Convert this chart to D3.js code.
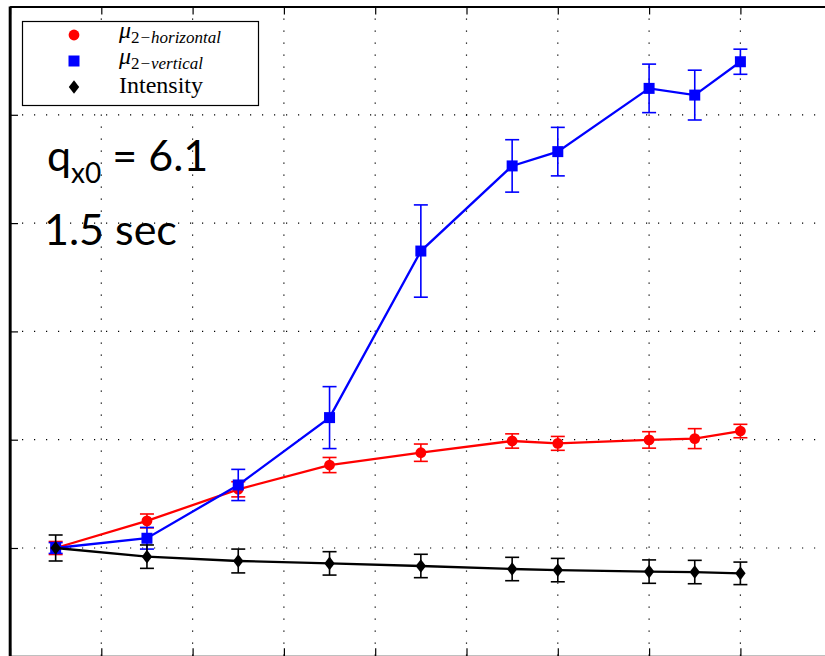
<!DOCTYPE html>
<html>
<head>
<meta charset="utf-8">
<script src="https://cdn.jsdelivr.net/npm/d3@7/dist/d3.min.js"></script>
<style>
  html, body { margin: 0; padding: 0; background: #fff; }
  svg { display: block; }
</style>
</head>
<body>
<svg id="chart" width="825" height="656"></svg>
<script>
"use strict";
// x positions (in grid units) of the measurements
var xValues = [0.5, 1.5, 2.5, 3.5, 4.5, 5.5, 6, 7, 7.5, 8];
// normalised values
var horizValues = [1.000, 1.125, 1.271, 1.383, 1.440, 1.494, 1.483, 1.499, 1.505, 1.540];
var horizErrors = [0.030, 0.032, 0.035, 0.035, 0.040, 0.033, 0.032, 0.038, 0.046, 0.031];
var vertValues = [1.000, 1.045, 1.291, 1.602, 2.371, 2.764, 2.830, 3.122, 3.091, 3.245];
var vertErrors = [0.025, 0.050, 0.072, 0.143, 0.213, 0.121, 0.112, 0.112, 0.115, 0.058];
var intensityValues = [1.000, 0.960, 0.940, 0.929, 0.917, 0.903, 0.898, 0.891, 0.889, 0.883];
var intensityErrors = [0.060, 0.054, 0.055, 0.054, 0.054, 0.054, 0.054, 0.054, 0.054, 0.052];
var xTicks = [0, 1, 2, 3, 4, 5, 6, 7, 8, 9];
var yTicks = [0.5, 1.0, 1.5, 2.0, 2.5, 3.0, 3.5];

var svg = d3.select("#chart");
var plotLeft = 10, plotTop = 6.5;
var x = d3.scaleLinear().domain([0, 9]).range([plotLeft, plotLeft + 9 * 91.3]);
var y = d3.scaleLinear().domain([0.5, 3.5]).range([656.3, plotTop]);
var plotRight = x(9), plotBottom = y(0.5);

// grid
var grid = svg.append("g").attr("class", "grid")
    .attr("stroke", "#000").attr("stroke-width", 1.2).attr("stroke-dasharray", "1.2,10.8");
grid.selectAll(".vgrid")
    .data(xTicks.slice(1))
    .enter().append("line")
    .attr("x1", function (d) { return x(d); })
    .attr("x2", function (d) { return x(d); })
    .attr("y1", plotTop).attr("y2", plotBottom);
grid.selectAll(".hgrid")
    .data(yTicks.slice(1, -1))
    .enter().append("line")
    .attr("y1", function (d) { return y(d); })
    .attr("y2", function (d) { return y(d); })
    .attr("x1", plotLeft).attr("x2", plotRight);

// axes with inward ticks, no labels (cropped out)
var noLabel = function () { return ""; };
svg.append("g").attr("transform", "translate(0," + plotTop + ")")
    .call(d3.axisBottom(x).tickValues(xTicks).tickSize(8).tickSizeOuter(0).tickFormat(noLabel));
svg.append("g").attr("transform", "translate(0," + plotBottom + ")")
    .call(d3.axisTop(x).tickValues(xTicks).tickSize(8).tickSizeOuter(0).tickFormat(noLabel));
svg.append("g").attr("transform", "translate(" + plotLeft + ",0)")
    .call(d3.axisRight(y).tickValues(yTicks).tickSize(8).tickSizeOuter(0).tickFormat(noLabel));
svg.selectAll(".domain").attr("stroke", "#000").attr("stroke-width", 2);
svg.selectAll(".tick line").attr("stroke", "#000").attr("stroke-width", 1.2);
svg.append("line").attr("x1", plotLeft).attr("x2", plotLeft).attr("y1", plotTop).attr("y2", plotBottom)
    .attr("stroke", "#000").attr("stroke-width", 2.6);

var series = [
    { name: "horizontal", values: horizValues, errors: horizErrors, color: "#ff0000", marker: "circle" },
    { name: "vertical", values: vertValues, errors: vertErrors, color: "#0000ff", marker: "square" },
    { name: "intensity", values: intensityValues, errors: intensityErrors, color: "#000000", marker: "diamond" }
];

var markerPath = {
    circle: d3.symbol().type(d3.symbolCircle).size(Math.PI * 5.4 * 5.4)(),
    square: "M-5.5,-5.5H5.5V5.5H-5.5Z",
    diamond: "M0,-6.8L5.2,0L0,6.8L-5.2,0Z"
};

var line = d3.line()
    .x(function (d) { return x(d.x); })
    .y(function (d) { return y(d.v); });

series.forEach(function (s) {
    var pts = xValues.map(function (xv, i) { return { x: xv, v: s.values[i], e: s.errors[i] }; });
    var g = svg.append("g").attr("class", "series " + s.name);
    g.append("path")
        .datum(pts)
        .attr("d", line)
        .attr("fill", "none")
        .attr("stroke", s.color)
        .attr("stroke-width", 2.3);
    var eb = g.selectAll(".err").data(pts).enter().append("g")
        .attr("stroke", s.color).attr("stroke-width", 1.6);
    eb.append("line")
        .attr("x1", function (d) { return x(d.x); })
        .attr("x2", function (d) { return x(d.x); })
        .attr("y1", function (d) { return y(d.v - d.e); })
        .attr("y2", function (d) { return y(d.v + d.e); });
    eb.append("line")
        .attr("x1", function (d) { return x(d.x) - 7; })
        .attr("x2", function (d) { return x(d.x) + 7; })
        .attr("y1", function (d) { return y(d.v + d.e); })
        .attr("y2", function (d) { return y(d.v + d.e); });
    eb.append("line")
        .attr("x1", function (d) { return x(d.x) - 7; })
        .attr("x2", function (d) { return x(d.x) + 7; })
        .attr("y1", function (d) { return y(d.v - d.e); })
        .attr("y2", function (d) { return y(d.v - d.e); });
    g.selectAll(".pt").data(pts).enter().append("path")
        .attr("d", markerPath[s.marker])
        .attr("transform", function (d) { return "translate(" + x(d.x) + "," + y(d.v) + ")"; })
        .attr("fill", s.color);
});

// legend
var legend = svg.append("g").attr("class", "legend");
legend.append("rect")
    .attr("x", 22.5).attr("y", 21.5).attr("width", 236).attr("height", 84)
    .attr("fill", "#fff").attr("stroke", "#000").attr("stroke-width", 1.2);
var rows = legend.selectAll(".row").data(series).enter().append("g")
    .attr("transform", function (d, i) { return "translate(74," + (35 + i * 26) + ")"; });
rows.append("path")
    .attr("d", function (d) { return markerPath[d.marker]; })
    .attr("fill", function (d) { return d.color; });
rows.each(function (d) {
    var t = d3.select(this).append("text")
        .attr("x", 45).attr("y", d.marker === "diamond" ? 6 : 3)
        .attr("font-family", "'Liberation Serif', 'DejaVu Serif', serif")
        .attr("font-size", d.marker === "diamond" ? 24 : 22)
        .attr("fill", "#000");
    if (d.marker === "diamond") {
        t.text("Intensity");
    } else {
        t.append("tspan").attr("font-style", "italic").attr("font-size", 24).text("\u03bc");
        t.append("tspan").attr("font-size", 17).attr("dy", 5).text("2");
        t.append("tspan").attr("font-size", 17).attr("font-style", "italic")
            .text("\u2212" + d.name);
    }
});

// annotations
var note = svg.append("g").attr("font-family", "Lato, 'Open Sans', sans-serif").attr("fill", "#000");
var t1 = note.append("text").attr("x", 47).attr("y", 171).attr("font-size", 43);
t1.append("tspan").text("q");
t1.append("tspan").attr("font-size", 28).attr("dy", 12).text("x0");
t1.append("tspan").attr("dy", -12).text(" = 6.1");
note.append("text").attr("x", 44).attr("y", 245).attr("font-size", 43).text("1.5 sec");
</script>
</body>
</html>
